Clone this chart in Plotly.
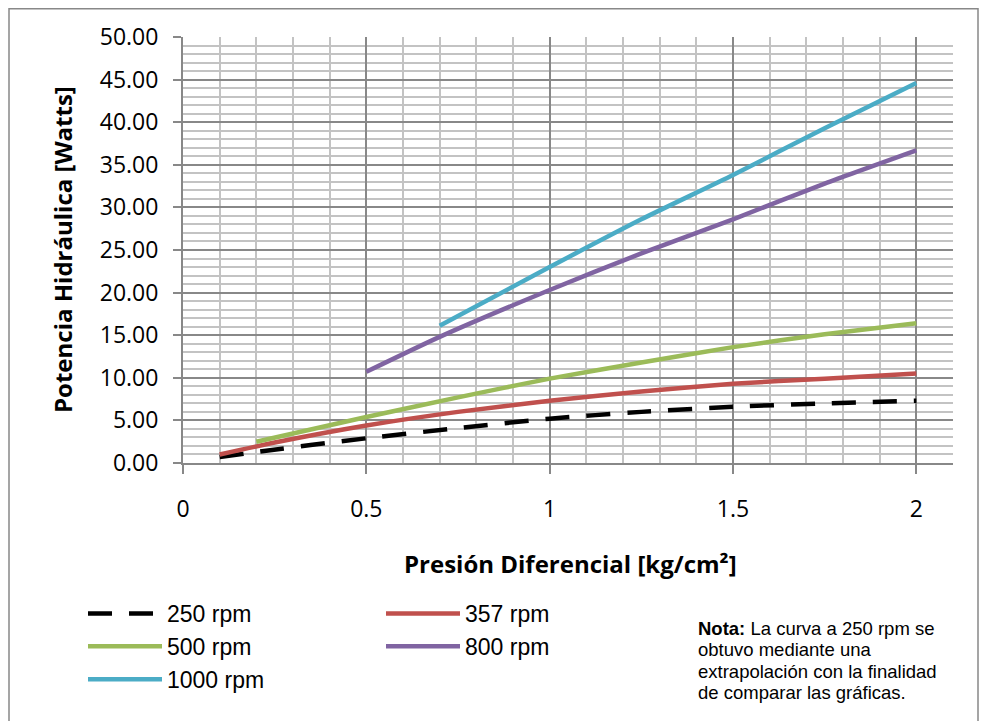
import plotly.graph_objects as go

# ---------------- data ----------------
x_250 = [0.1, 0.2, 0.5, 0.75, 1.0, 1.25, 1.5, 1.75, 2.0]
y_250 = [0.7, 1.3, 2.9, 4.1, 5.2, 6.0, 6.6, 7.0, 7.3]

x_357 = [0.1, 0.25, 0.5, 0.75, 1.0, 1.25, 1.5, 1.75, 2.0]
y_357 = [1.0, 2.4, 4.4, 6.0, 7.3, 8.4, 9.3, 9.9, 10.5]

x_500 = [0.2, 0.5, 0.75, 1.0, 1.25, 1.5, 1.75, 2.0]
y_500 = [2.5, 5.4, 7.7, 9.9, 11.8, 13.6, 15.1, 16.4]

x_800 = [0.5, 0.7, 1.0, 1.25, 1.5, 1.75, 2.0]
y_800 = [10.7, 14.8, 20.3, 24.6, 28.6, 32.8, 36.7]

x_1000 = [0.7, 1.0, 1.25, 1.5, 1.75, 2.0]
y_1000 = [16.1, 23.0, 28.6, 33.8, 39.3, 44.6]

series_names = ["250 rpm", "357 rpm", "500 rpm", "800 rpm", "1000 rpm"]
x_ticks = [0, 0.5, 1, 1.5, 2]
x_ticktext = ["0", "0.5", "1", "1.5", "2"]
note_lines = [
    "<b>Nota:</b> La curva a 250 rpm se",
    "obtuvo mediante una",
    "extrapolación con la finalidad",
    "de comparar las gráficas.",
]

# ---------------- geometry helpers ----------------
# The page body adds an 8px offset, so the figure is 8px smaller and all
# reference page coordinates are shifted by 8px.
OFF = 8
W, H = 987 - OFF, 721 - OFF
L, R, T, B = 183, 953, 37, 463   # plot area in page coordinates


def px(p):
    return (p - L) / (R - L)


def py(p):
    return (B - p) / (B - T)


fig = go.Figure()

specs = [
    (x_250, y_250, series_names[0], "#000000", "24px,17px", "legend"),
    (x_357, y_357, series_names[1], "#C0504D", "solid", "legend2"),
    (x_500, y_500, series_names[2], "#9BBB59", "solid", "legend"),
    (x_800, y_800, series_names[3], "#8064A2", "solid", "legend2"),
    (x_1000, y_1000, series_names[4], "#4BACC6", "solid", "legend"),
]
for i, (xs, ys, name, color, dash, leg) in enumerate(specs):
    fig.add_trace(go.Scatter(
        x=xs, y=ys, name=name, mode="lines",
        line=dict(color=color, width=4.5, dash=dash, shape="spline", smoothing=0.6),
        legend=leg, legendgroup=f"g{i}",
    ))

tick_font = dict(family="Open Sans", size=23, color="#000000")
title_font = dict(family="Open Sans", size=24, color="#000000")
legend_font = dict(family="Liberation Sans, Arial", size=23, color="#000000")

fig.update_layout(
    width=W, height=H,
    margin=dict(l=L - OFF, r=W - (R - OFF), t=T - OFF, b=H - (B - OFF)),
    paper_bgcolor="white", plot_bgcolor="white",
    showlegend=True,
    xaxis=dict(
        range=[0, 2.1], tickvals=x_ticks, ticktext=x_ticktext,
        showgrid=True, gridcolor="#888888", gridwidth=1.5,
        minor=dict(dtick=0.1, tick0=0, showgrid=True, gridcolor="#C3C3C3", gridwidth=1.5),
        showline=True, linecolor="#888888", linewidth=2,
        ticks="outside", ticklen=9, tickcolor="#888888", tickwidth=1.5,
        tickfont=tick_font, ticklabelstandoff=15, zeroline=False,
    ),
    yaxis=dict(
        range=[0, 50], dtick=5, tick0=0, tickformat=".2f",
        showgrid=True, gridcolor="#888888", gridwidth=1.5,
        minor=dict(dtick=1, showgrid=True, gridcolor="#C3C3C3", gridwidth=1.5),
        showline=True, linecolor="#888888", linewidth=2,
        ticks="outside", ticklen=8, tickcolor="#888888", tickwidth=1.5,
        tickfont=tick_font, ticklabelstandoff=10, zeroline=False,
    ),
    legend=dict(
        x=px(83), y=py(592), xanchor="left", yanchor="top",
        orientation="v", font=legend_font, bgcolor="rgba(0,0,0,0)",
        tracegroupgap=0, itemwidth=74, itemclick=False,
    ),
    legend2=dict(
        x=px(381), y=py(592), xanchor="left", yanchor="top",
        orientation="v", font=legend_font, bgcolor="rgba(0,0,0,0)",
        tracegroupgap=0, itemwidth=74, itemclick=False,
    ),
)

annotations = [
    dict(text="<b>Potencia Hidráulica [Watts]</b>", textangle=-90,
         x=px(62), y=0.5, xref="paper", yref="paper",
         xanchor="center", yanchor="middle", showarrow=False, font=title_font),
    dict(text="<b>Presión Diferencial [kg/cm²]</b>",
         x=px(570), y=py(563), xref="paper", yref="paper",
         xanchor="center", yanchor="middle", showarrow=False, font=title_font),
]
note_y = [628.5, 649.8, 671.1, 692.4]
for line, yy in zip(note_lines, note_y):
    annotations.append(dict(
        text=line, x=px(697), y=py(yy), xref="paper", yref="paper",
        xanchor="left", yanchor="middle", showarrow=False, borderpad=0,
        font=dict(family="Liberation Sans, Arial", size=18.5, color="#000000"),
    ))
fig.update_layout(annotations=annotations)

fig.add_shape(type="rect", xref="paper", yref="paper",
              x0=px(9), x1=px(978), y0=py(740), y1=py(8.8),
              line=dict(color="#888888", width=1.5), layer="below")

fig.write_html("out.html")
